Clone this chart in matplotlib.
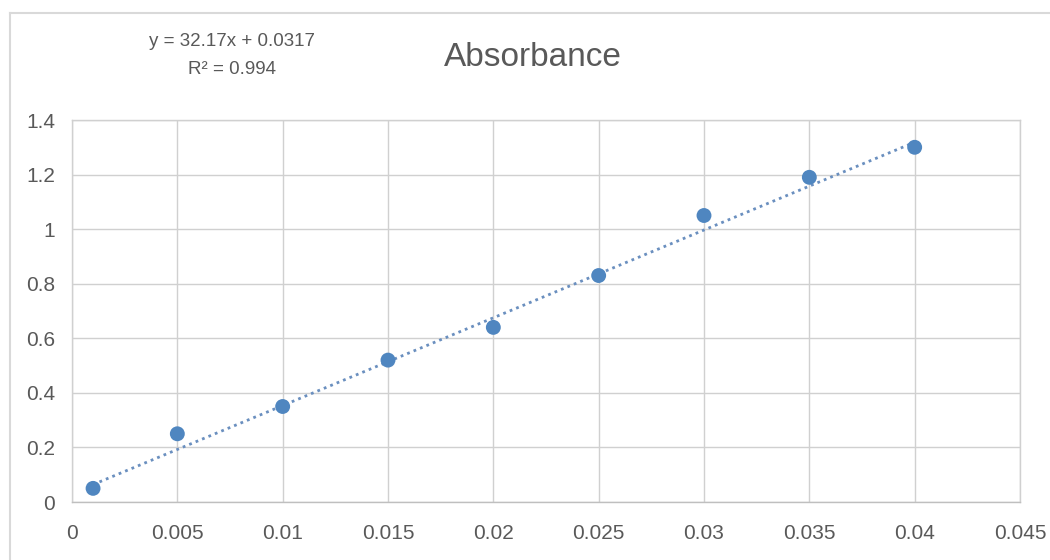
import matplotlib
matplotlib.use("Agg")
import matplotlib.pyplot as plt
from matplotlib.lines import Line2D
import numpy as np

concentration = [0.001, 0.005, 0.01, 0.015, 0.02, 0.025, 0.03, 0.035, 0.04]
absorbance = [0.05, 0.25, 0.35, 0.52, 0.64, 0.83, 1.05, 1.19, 1.30]
slope = 32.17
intercept = 0.0317
r_squared = 0.994
x_ticks = [0, 0.005, 0.01, 0.015, 0.02, 0.025, 0.03, 0.035, 0.04, 0.045]
x_tick_labels = ["0", "0.005", "0.01", "0.015", "0.02", "0.025", "0.03", "0.035", "0.04", "0.045"]
y_ticks = [0, 0.2, 0.4, 0.6, 0.8, 1.0, 1.2, 1.4]
y_tick_labels = ["0", "0.2", "0.4", "0.6", "0.8", "1", "1.2", "1.4"]

plt.rcParams['font.family'] = ["Liberation Sans", "DejaVu Sans"]

W, H = 1050, 560
fig = plt.figure(figsize=(W / 100, H / 100), dpi=100)
# chart border (only top and left edges visible in the reference crop)
fig.add_artist(Line2D([10 / W, 1.0], [1 - 13 / H, 1 - 13 / H], transform=fig.transFigure,
                      color="#d9d9d9", linewidth=1.5))
fig.add_artist(Line2D([10 / W, 10 / W], [0, 1 - 13 / H], transform=fig.transFigure,
                      color="#d9d9d9", linewidth=1.5))

left, right, top, bottom = 72, 1020, 120, 502
ax = fig.add_axes([left / W, (H - bottom) / H, (right - left) / W, (bottom - top) / H])

ax.set_xlim(0, 0.045)
ax.set_ylim(0, 1.4)
ax.set_xticks(x_ticks)
ax.set_xticklabels(x_tick_labels)
ax.set_yticks(y_ticks)
ax.set_yticklabels(y_tick_labels)
ax.grid(True, color="#d0d0d0", linewidth=1.0)
ax.set_axisbelow(True)
for s in ax.spines.values():
    s.set_color("#d0d0d0")
    s.set_linewidth(1.0)
ax.spines['bottom'].set_color("#bfbfbf")
ax.tick_params(length=0, colors="#595959", labelsize=15)
ax.tick_params(axis="x", pad=16)
ax.tick_params(axis="y", pad=12)

xs = np.array([concentration[0], concentration[-1]])
ax.plot(xs, slope * xs + intercept, linestyle=(0, (1, 1.5)), color="#6a8fbf", linewidth=2.0, zorder=2)
ax.scatter(concentration, absorbance, s=115, color="#4f86c0", zorder=3, edgecolors="none")

fig.text(533 / W, 1 - 58 / H, "Absorbance", ha="center", va="center", fontsize=24, color="#595959")
fig.text(232 / W, 1 - 42 / H, f"y = {slope}x + {intercept}", ha="center", va="center", fontsize=13.5, color="#595959")
fig.text(232 / W, 1 - 70 / H, f"R² = {r_squared}", ha="center", va="center", fontsize=13.5, color="#595959")

fig.savefig("out.png", dpi=100, facecolor="white")
